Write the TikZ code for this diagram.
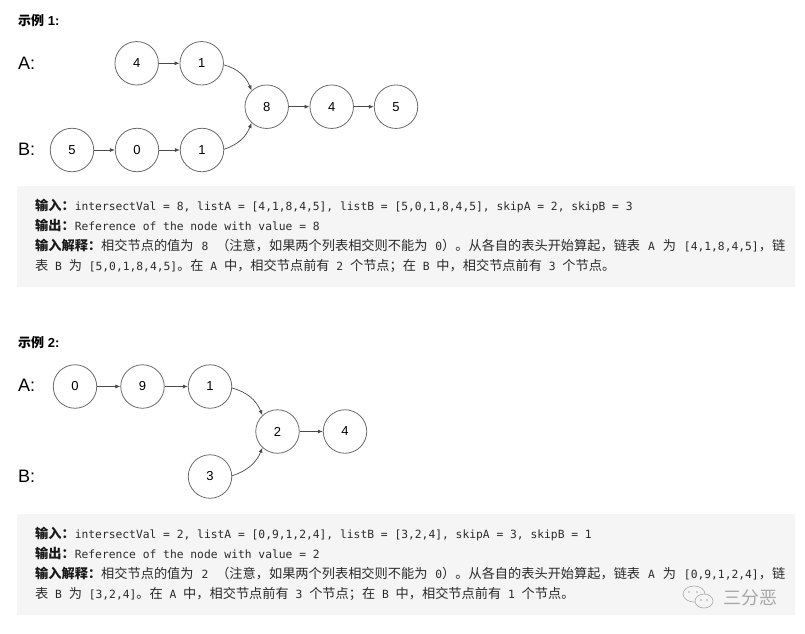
\documentclass[tikz,border=0pt]{standalone}
\usepackage{fontspec}
\setmainfont{Liberation Sans}
\newfontfamily\cjk{Noto Sans CJK SC}
\newfontfamily\monof{DejaVu Sans Mono}
\usetikzlibrary{arrows.meta}
\definecolor{boxbg}{HTML}{F5F5F5}
\definecolor{circ}{HTML}{6A6A6A}
\definecolor{arrc}{HTML}{4A4A4A}
\definecolor{txt}{HTML}{2A2A2A}
\definecolor{wm}{HTML}{A8A8A8}
\newcommand\mm[1]{{\monof\fontsize{11.3}{14}\selectfont #1}}
\newcommand\lab[1]{{\cjk\bfseries\color{black!90} #1}}
\begin{document}
\begin{tikzpicture}[x=1pt,y=-1pt,
  nd/.style={circle, draw=circ, line width=0.8pt, minimum size=43.5pt, inner sep=0pt,
    font=\fontsize{13}{16}\selectfont},
  arr/.style={draw=arrc, line width=0.7pt, -{Latex[length=5pt,width=4pt]}},
  rowlab/.style={anchor=west, inner sep=0pt, font=\fontsize{18}{20}\selectfont},
  title/.style={anchor=west, inner sep=0pt, font=\fontsize{13}{15}\selectfont\bfseries},
  txtline/.style={anchor=base west, inner sep=0pt, text=txt, font=\cjk\fontsize{13.2}{15}\selectfont},
  codebox/.style={fill=boxbg, draw=none}
]
\useasboundingbox (0,0) rectangle (805,633);

% ---------------- Example 1 ----------------
\node[title] (t1) at (18,21) {{\cjk 示例} 1:};
\node[rowlab] (la1) at (18,63) {A:};
\node[rowlab] (lb1) at (18,149) {B:};

\node[nd] (a1) at (136.7,63.3) {4};
\node[nd] (a2) at (201.7,63.3) {1};
\node[nd] (c8) at (266.7,106.7) {8};
\node[nd] (c4) at (331.7,106.7) {4};
\node[nd] (c5) at (396,106.7) {5};
\node[nd] (b1) at (72,150) {5};
\node[nd] (b2) at (137,150) {0};
\node[nd] (b3) at (202,150) {1};

\draw[arr] (a1.east) -- (a2.west);
\draw[arr] (c8.east) -- (c4.west);
\draw[arr] (c4.east) -- (c5.west);
\draw[arr] (b1.east) -- (b2.west);
\draw[arr] (b2.east) -- (b3.west);
\draw[arr] (a2.-4) to[out=-15,in=112] (c8.133);
\draw[arr] (b3.2) to[out=18,in=-112] (c8.227);

\path[codebox] (17,186) rectangle (795,287);
\node[txtline] (e1l1) at (35,210.5) {\lab{输入：}\mm{intersectVal = 8, listA = [4,1,8,4,5], listB = [5,0,1,8,4,5], skipA = 2, skipB = 3}};
\node[txtline] (e1l2) at (35,230.5) {\lab{输出：}\mm{Reference of the node with value = 8}};
\node[txtline] (e1l3) at (35,250.5) {\makebox[750pt][s]{\lab{输入解释：}相交节点的值为\mm{ 8 }（注意，如果两个列表相交则不能为\mm{ 0}）。从各自的表头开始算起，链表\mm{ A }为\mm{ [4,1,8,4,5]}，链}};
\node[txtline] (e1l4) at (35,270.5) {表\mm{ B }为\mm{ [5,0,1,8,4,5]}。在\mm{ A }中，相交节点前有\mm{ 2 }个节点；在\mm{ B }中，相交节点前有\mm{ 3 }个节点。};

% ---------------- Example 2 ----------------
\node[title] (t2) at (18,343) {{\cjk 示例} 2:};
\node[rowlab] (la2) at (18,385) {A:};
\node[rowlab] (lb2) at (18,476) {B:};

\node[nd] (p0) at (75,386.5) {0};
\node[nd] (p9) at (142.5,386.5) {9};
\node[nd] (p1) at (210,386.5) {1};
\node[nd] (q2) at (277.5,431.5) {2};
\node[nd] (q4) at (345,431.5) {4};
\node[nd] (r3) at (210,476.5) {3};

\draw[arr] (p0.east) -- (p9.west);
\draw[arr] (p9.east) -- (p1.west);
\draw[arr] (q2.east) -- (q4.west);
\draw[arr] (p1.-4) to[out=-15,in=112] (q2.133);
\draw[arr] (r3.2) to[out=18,in=-112] (q2.227);

\path[codebox] (17,514) rectangle (795,615);
\node[txtline] (e2l1) at (35,538) {\lab{输入：}\mm{intersectVal = 2, listA = [0,9,1,2,4], listB = [3,2,4], skipA = 3, skipB = 1}};
\node[txtline] (e2l2) at (35,558) {\lab{输出：}\mm{Reference of the node with value = 2}};
\node[txtline] (e2l3) at (35,578) {\makebox[750pt][s]{\lab{输入解释：}相交节点的值为\mm{ 2 }（注意，如果两个列表相交则不能为\mm{ 0}）。从各自的表头开始算起，链表\mm{ A }为\mm{ [0,9,1,2,4]}，链}};
\node[txtline] (e2l4) at (35,598) {表\mm{ B }为\mm{ [3,2,4]}。在\mm{ A }中，相交节点前有\mm{ 3 }个节点；在\mm{ B }中，相交节点前有\mm{ 1 }个节点。};

% ---------------- watermark ----------------
\draw[wm, line width=0.6pt] (694,594) ellipse [x radius=11, y radius=8];
\fill[boxbg] (704,601) ellipse [x radius=9, y radius=7];
\draw[wm, line width=0.6pt] (704,601) ellipse [x radius=9, y radius=7];
\fill[wm] (689,592) circle (0.9) (697,592) circle (0.9) (701,600) circle (0.8) (707,600) circle (0.8);
\node[anchor=center, inner sep=0pt, text=wm, font=\cjk\fontsize{18}{20}\selectfont] (wmt) at (750,598) {三分恶};
\end{tikzpicture}
\end{document}
